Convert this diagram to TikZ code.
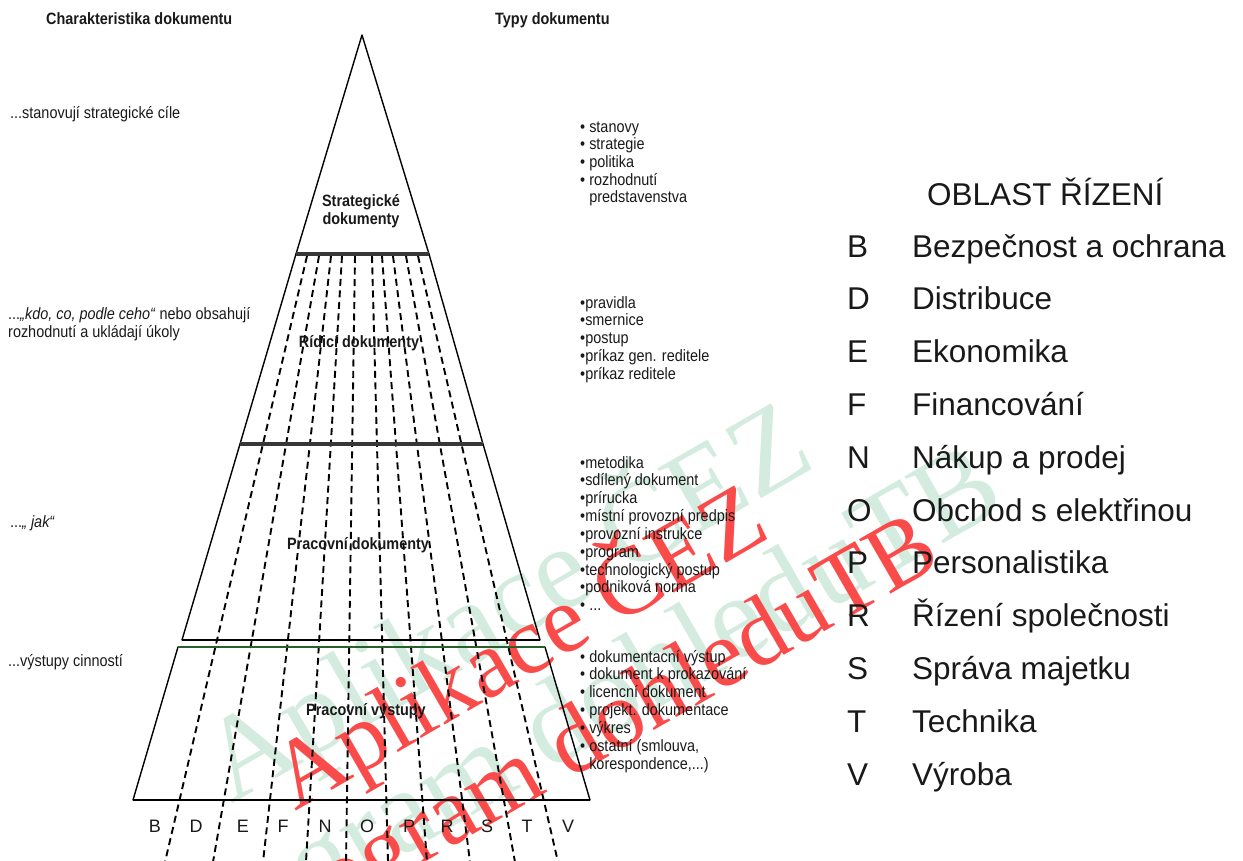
\documentclass[tikz,border=0pt]{standalone}
\usepackage{fontspec}
\setmainfont{Liberation Sans}
\newfontfamily\narrowfont[FakeStretch=0.88]{Liberation Sans}
\newfontfamily\wmfont{Liberation Serif}
\newcommand{\threedots}{...}

\definecolor{wmred}{RGB}{250,75,75}
\definecolor{wmgreen}{RGB}{212,236,224}
\definecolor{bargray}{RGB}{55,55,55}
\definecolor{linegreen}{RGB}{40,95,45}
\definecolor{txt}{RGB}{25,25,25}

\begin{document}
\begin{tikzpicture}[x=1pt,y=-1pt,
  outline/.style={line width=1.4pt, line cap=round, line join=round},
  sepbar/.style={line width=3.6pt, draw=bargray},
  sepline/.style={line width=2.2pt},
  greenline/.style={line width=2pt, draw=linegreen},
  areadash/.style={line width=1.9pt, dash pattern=on 7pt off 4.5pt},
  smalltxt/.style={inner sep=0pt, anchor=base west, text=txt,
    font=\narrowfont\fontsize{16.4}{18}\selectfont},
  levellabel/.style={inner sep=0pt, anchor=base, text=txt,
    font=\narrowfont\bfseries\fontsize{16.4}{18}\selectfont},
  headtxt/.style={smalltxt, font=\narrowfont\bfseries\fontsize{16.4}{18}\selectfont},
  letter/.style={inner sep=0pt, anchor=base, text=txt,
    font=\fontsize{18}{20}\selectfont},
  legendtxt/.style={inner sep=0pt, anchor=base west, text=txt,
    font=\fontsize{31.5}{36}\selectfont},
  wmark/.style={inner sep=0pt, anchor=base, rotate=30, font=\wmfont}
]
\useasboundingbox (0,0) rectangle (1243,860);
\clip (0,0) rectangle (1243,860);

% --- watermark text in the background ---
\node[wmark, text=wmgreen, font=\wmfont\fontsize{118}{130}\selectfont] (wg1) at (525,635) {Aplikace ČEZ};
\node[wmark, text=wmgreen, font=\wmfont\fontsize{118}{130}\selectfont] (wg2) at (590,748) {Program dohleduTB};
\node[wmark, text=wmred, font=\wmfont\fontsize{96}{106}\selectfont] (wr1) at (534,674) {Aplikace ČEZ};
\node[wmark, text=wmred, font=\wmfont\fontsize{96}{106}\selectfont] (wr2) at (603,760) {Program dohleduTB};

% --- corner points of the pyramid ---
\coordinate (apex) at (362,35);
\coordinate (s-l) at (296,254);  \coordinate (s-r) at (429,254);
\coordinate (r-l) at (240,444);  \coordinate (r-r) at (483,444);
\coordinate (p-l) at (182,640);  \coordinate (p-r) at (540,640);
\coordinate (v-tl) at (178,647); \coordinate (v-tr) at (545,647);
\coordinate (v-bl) at (133,800); \coordinate (v-br) at (590,800);

% --- dashed borders between management areas ---
\foreach \xt/\xb [count=\i] in {307/165,319/213,331/263,342/306,355/346,
                                372/388,382/427,393/470,406/515,418/558}{
  \coordinate (dt\i) at (\xt,256);
  \coordinate (db\i) at (\xb,862);
  \draw[areadash] (dt\i) -- (db\i);
}

% --- pyramid outline ---
\draw[outline] (s-l) -- (apex) -- (s-r);
\draw[outline] (s-l) -- (r-l) -- (p-l);
\draw[outline] (s-r) -- (r-r) -- (p-r);
\draw[sepbar] (s-l) -- (s-r);
\draw[sepbar] (r-l) -- (r-r);
\draw[sepline] (p-l) -- (p-r);
\draw[outline] (v-tl) -- (v-bl);
\draw[outline] (v-tr) -- (v-br);
\draw[greenline] (v-tl) -- (v-tr);
\draw[sepline] (v-bl) -- (v-br);

% --- level labels ---
\node[levellabel] (lv1a) at (361,206) {Strategické};
\node[levellabel] (lv1b) at (361,224) {dokumenty};
\node[levellabel] (lv2) at (359,347) {Rídicí dokumenty};
\node[levellabel] (lv3) at (358,549) {Pracovní dokumenty};
\node[levellabel] (lv4) at (366,715) {Pracovní výstupy};

% --- area letters below the pyramid ---
\foreach \l/\x in {B/155,D/196,E/243,F/283,N/325,O/367,P/409,R/447,S/487,T/527,V/568}
  \node[letter] (area-\l) at (\x,832.5) {\l};

% --- column headings ---
\node[headtxt] (hchar) at (46,24) {Charakteristika dokumentu};
\node[headtxt] (htypes) at (495,24) {Typy dokumentu};

% --- characteristics ---
\node[smalltxt] (c1) at (10,118) {...stanovují strategické cíle};
\node[smalltxt] (c2a) at (8,319) {...\textit{„kdo, co, podle ceho“} nebo obsahují};
\node[smalltxt] (c2b) at (8,337) {rozhodnutí a ukládají úkoly};
\node[smalltxt] (c3) at (10,527) {...\textit{„ jak“}};
\node[smalltxt] (c4) at (8,666) {...výstupy cinností};

% --- document types ---
\foreach \t [count=\i] in {{• stanovy},{• strategie},{• politika},{• rozhodnutí},
                           {\phantom{• }predstavenstva}}
  \node[smalltxt] (ta\i) at (580,{132+(\i-1)*17.7}) {\t};
\foreach \t [count=\i] in {{•pravidla},{•smernice},{•postup},{•príkaz gen. reditele},
                           {•príkaz reditele}}
  \node[smalltxt] (tb\i) at (580,{308+(\i-1)*17.8}) {\t};
\foreach \t [count=\i] in {{•metodika},{•sdílený dokument},{•prírucka},
                           {•místní provozní predpis},{•provozní instrukce},{•program},
                           {•technologický postup},{•podniková norma},{• \threedots}}
  \node[smalltxt] (tc\i) at (580,{468+(\i-1)*17.85}) {\t};
\foreach \t [count=\i] in {{• dokumentacní výstup},{• dokument k prokazování},
                           {• licencní dokument},{• projekt. dokumentace},{• výkres},
                           {• ostatní (smlouva,},{\phantom{• }korespondence,\threedots)}}
  \node[smalltxt] (td\i) at (580,{662+(\i-1)*17.9}) {\t};

% --- legend of management areas ---
\node[legendtxt] (legtitle) at (927,205) {OBLAST ŘÍZENÍ};
\foreach \l/\n [count=\i] in {B/Bezpečnost a ochrana,D/Distribuce,E/Ekonomika,
    F/Financování,N/Nákup a prodej,O/Obchod s elektřinou,P/Personalistika,
    R/Řízení společnosti,S/Správa majetku,T/Technika,V/Výroba}{
  \node[legendtxt] (key-\l) at (847,{257+(\i-1)*52.8}) {\l};
  \node[legendtxt] (name-\l) at (912,{257+(\i-1)*52.8}) {\n};
}
\end{tikzpicture}
\end{document}
